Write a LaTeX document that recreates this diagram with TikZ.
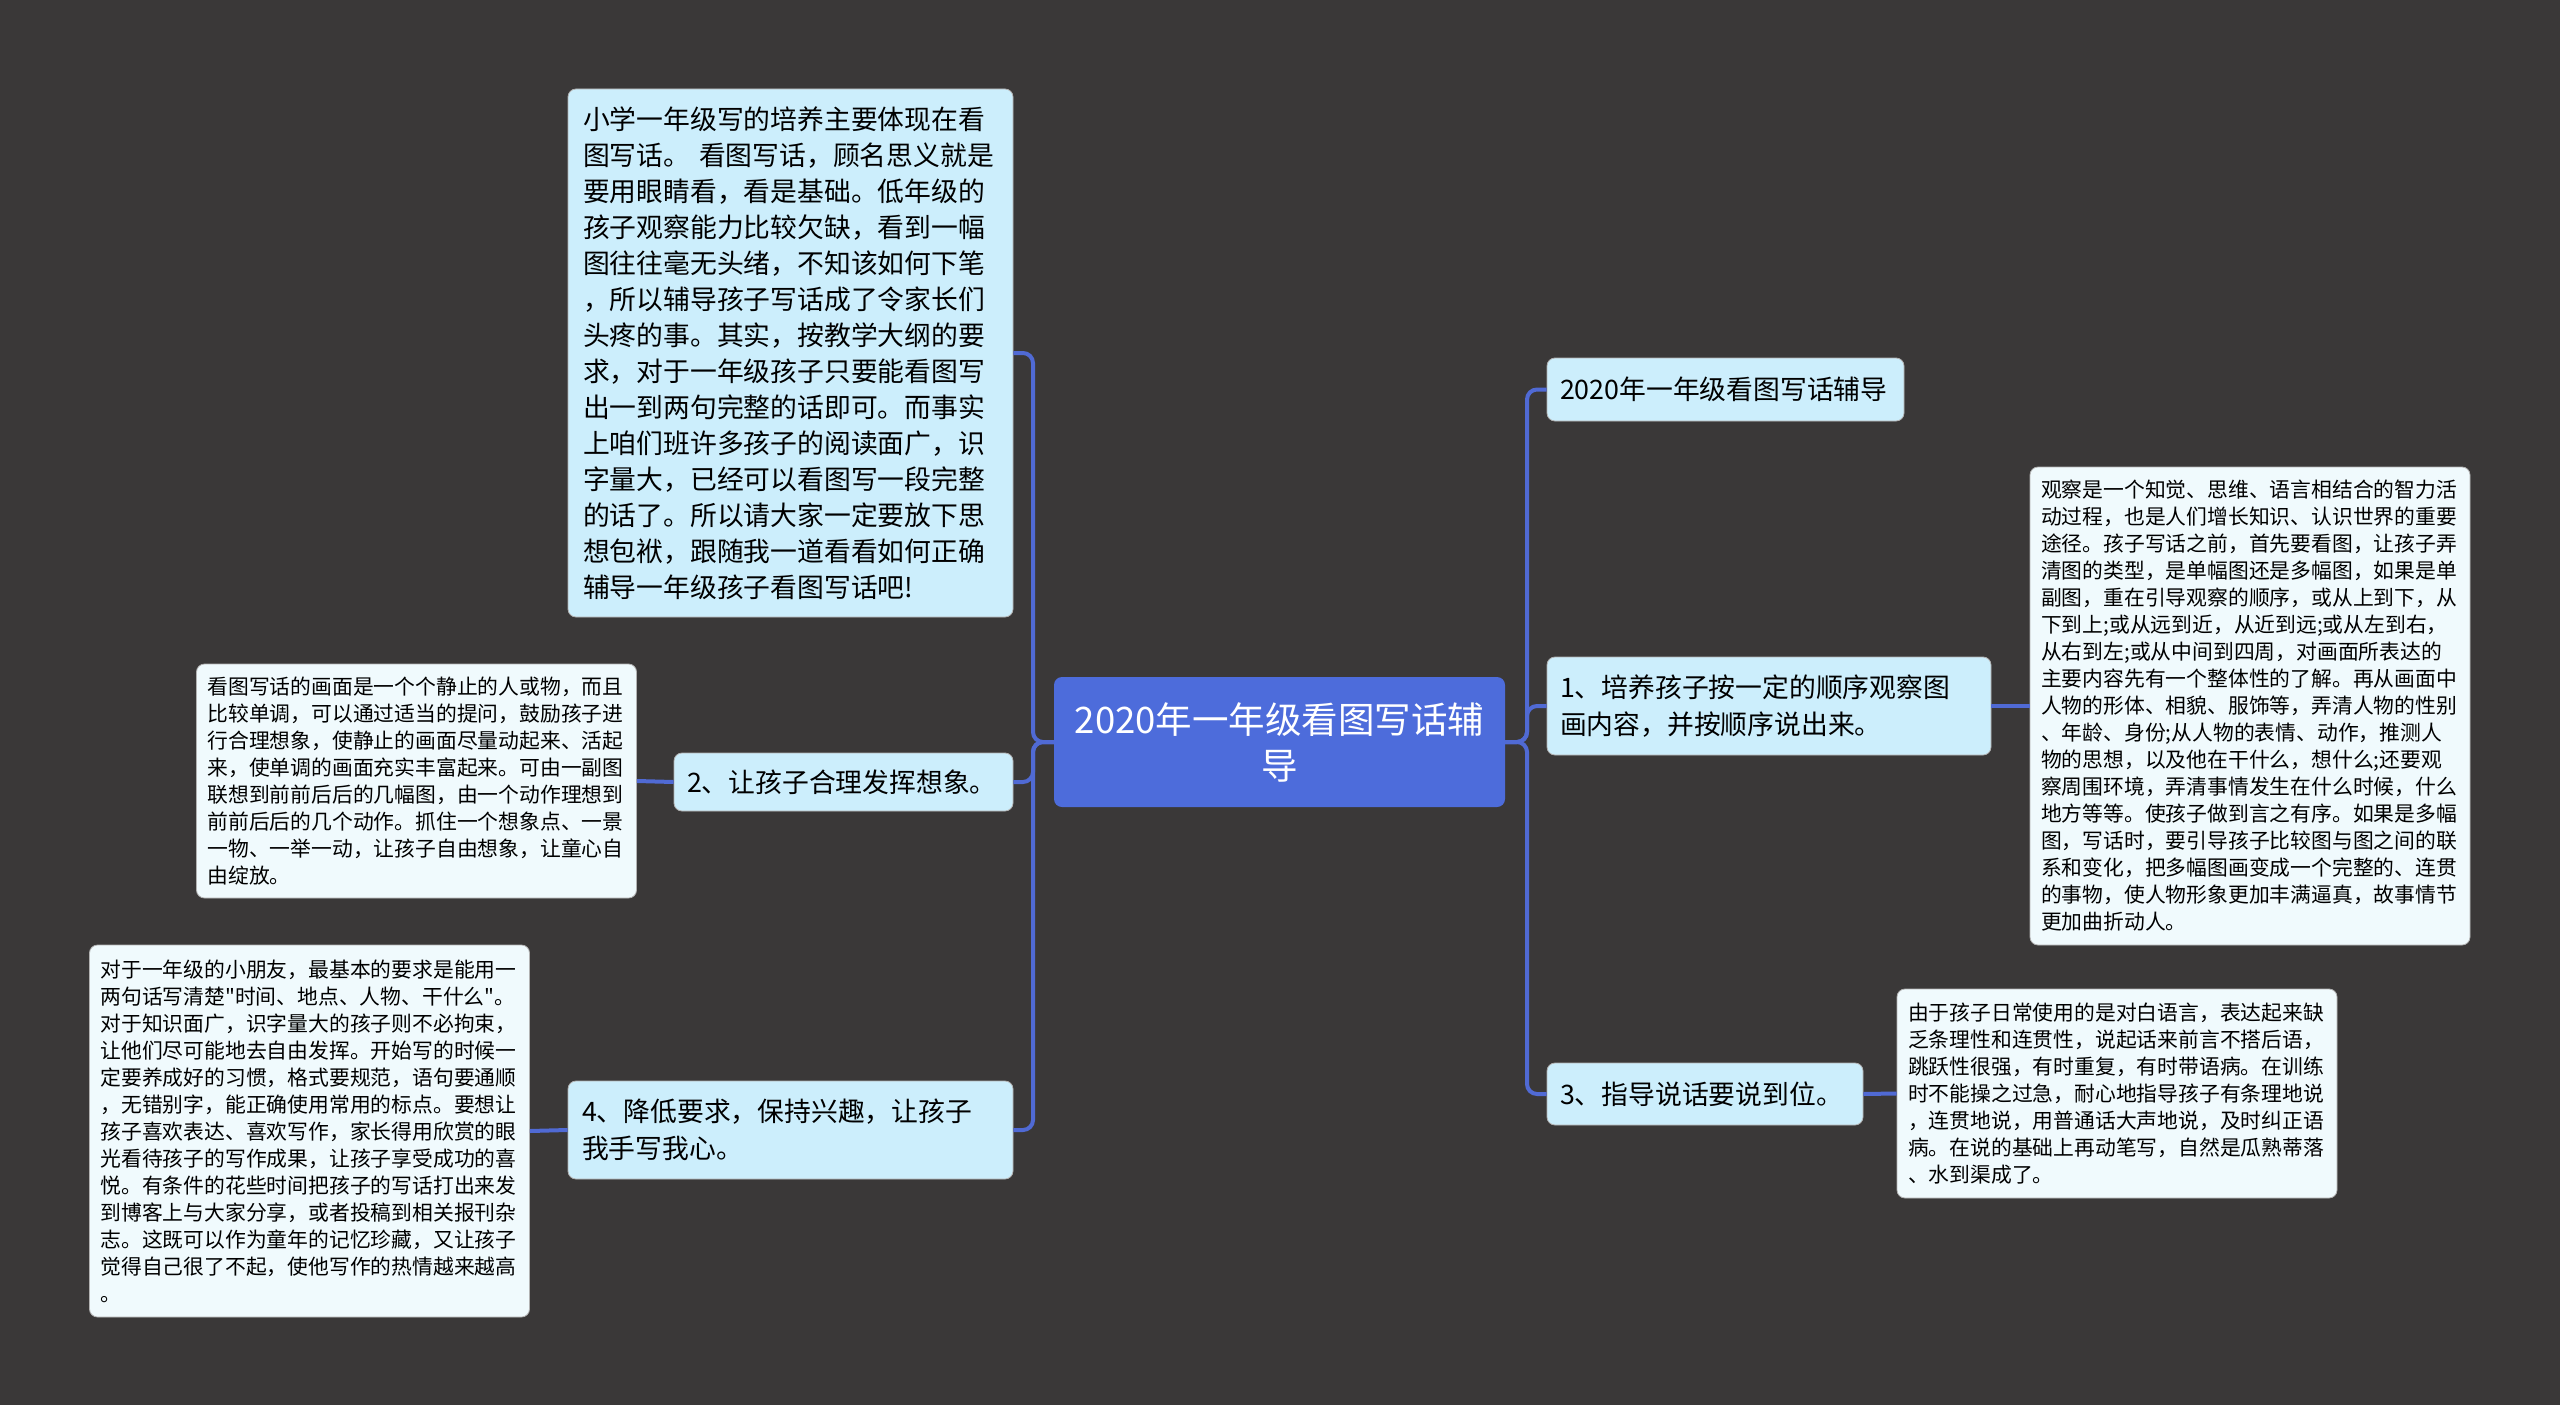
\documentclass[tikz,border=0pt]{standalone}
\usepackage{fontspec}
\setmainfont{Noto Sans CJK SC}[Ligatures=TeXOff]
\definecolor{mapbg}{RGB}{58,56,56}
\definecolor{mapline}{RGB}{80,106,212}
\definecolor{maproot}{RGB}{77,108,219}
\definecolor{mapnode}{RGB}{204,238,252}
\definecolor{mapleaf}{RGB}{240,250,253}
\usetikzlibrary{positioning}

\begin{document}
\begin{tikzpicture}[
  x=1pt,y=-1pt,
  root/.style={fill=maproot,text=white,rounded corners=8pt,align=center,
               font=\fontsize{36.5}{46}\selectfont,
               minimum width=451pt,minimum height=130pt},
  topic/.style={fill=mapnode,draw=black!30,line width=0.8pt,rounded corners=8pt,
                align=left,font=\fontsize{26.8}{36.7}\selectfont,
                inner xsep=13pt,inner ysep=0pt},
  leaf/.style={fill=mapleaf,draw=black!30,line width=0.8pt,rounded corners=8pt,
               align=left,font=\fontsize{20.8}{27}\selectfont,
               inner xsep=11pt,inner ysep=0pt,text width=418pt},
  link/.style={draw=mapline,line width=4pt,rounded corners=10pt},
]
  % Background
  \fill[mapbg] (0,0) rectangle (2560,1405);

  % Root
  \node[root] (root) at (1279.5,742) {2020年一年级看图写话辅\\导};

  % Right branch nodes
  \node[topic,text width=331pt,minimum height=63pt] (title) at (1725.5,389.5)
    {2020年一年级看图写话辅导};
  \node[topic,text width=418pt,minimum height=98pt] (order) at (1769,706)
    {1、培养孩子按一定的顺序观察图\\
     画内容，并按顺序说出来。};
  \node[topic,text width=290pt,minimum height=62pt] (speak) at (1705,1094)
    {3、指导说话要说到位。};

  % Left branch nodes
  \node[topic,text width=415pt,inner xsep=15pt,minimum height=528pt,
        font=\fontsize{26.8}{36}\selectfont] (intro) at (790.5,353)
    {小学一年级写的培养主要体现在看\\
     图写话。 看图写话，顾名思义就是\\
     要用眼睛看，看是基础。低年级的\\
     孩子观察能力比较欠缺，看到一幅\\
     图往往毫无头绪，不知该如何下笔\\
     ，所以辅导孩子写话成了令家长们\\
     头疼的事。其实，按教学大纲的要\\
     求，对于一年级孩子只要能看图写\\
     出一到两句完整的话即可。而事实\\
     上咱们班许多孩子的阅读面广，识\\
     字量大，已经可以看图写一段完整\\
     的话了。所以请大家一定要放下思\\
     想包袱，跟随我一道看看如何正确\\
     辅导一年级孩子看图写话吧!};
  \node[topic,text width=313pt,minimum height=58pt] (imagine) at (843.5,782)
    {2、让孩子合理发挥想象。};
  \node[topic,text width=417pt,inner xsep=14pt,minimum height=98pt] (lower) at (790.5,1130)
    {4、降低要求，保持兴趣，让孩子\\
     我手写我心。};

  % Leaves
  \node[leaf,minimum height=478pt] (observe) at (2250,706)
    {观察是一个知觉、思维、语言相结合的智力活\\
     动过程，也是人们增长知识、认识世界的重要\\
     途径。孩子写话之前，首先要看图，让孩子弄\\
     清图的类型，是单幅图还是多幅图，如果是单\\
     副图，重在引导观察的顺序，或从上到下，从\\
     下到上;或从远到近，从近到远;或从左到右，\\
     从右到左;或从中间到四周，对画面所表达的\\
     主要内容先有一个整体性的了解。再从画面中\\
     人物的形体、相貌、服饰等，弄清人物的性别\\
     、年龄、身份;从人物的表情、动作，推测人\\
     物的思想，以及他在干什么，想什么;还要观\\
     察周围环境，弄清事情发生在什么时候，什么\\
     地方等等。使孩子做到言之有序。如果是多幅\\
     图，写话时，要引导孩子比较图与图之间的联\\
     系和变化，把多幅图画变成一个完整的、连贯\\
     的事物，使人物形象更加丰满逼真，故事情节\\
     更加曲折动人。};
  \node[leaf,minimum height=209pt] (dialog) at (2117,1093.5)
    {由于孩子日常使用的是对白语言，表达起来缺\\
     乏条理性和连贯性，说起话来前言不搭后语，\\
     跳跃性很强，有时重复，有时带语病。在训练\\
     时不能操之过急，耐心地指导孩子有条理地说\\
     ，连贯地说，用普通话大声地说，及时纠正语\\
     病。在说的基础上再动笔写，自然是瓜熟蒂落\\
     、水到渠成了。};
  \node[leaf,minimum height=234pt] (still) at (416.5,781)
    {看图写话的画面是一个个静止的人或物，而且\\
     比较单调，可以通过适当的提问，鼓励孩子进\\
     行合理想象，使静止的画面尽量动起来、活起\\
     来，使单调的画面充实丰富起来。可由一副图\\
     联想到前前后后的几幅图，由一个动作理想到\\
     前前后后的几个动作。抓住一个想象点、一景\\
     一物、一举一动，让孩子自由想象，让童心自\\
     由绽放。};
  \node[leaf,minimum height=372pt] (habit) at (309.5,1131)
    {对于一年级的小朋友，最基本的要求是能用一\\
     两句话写清楚"时间、地点、人物、干什么"。\\
     对于知识面广，识字量大的孩子则不必拘束，\\
     让他们尽可能地去自由发挥。开始写的时候一\\
     定要养成好的习惯，格式要规范，语句要通顺\\
     ，无错别字，能正确使用常用的标点。要想让\\
     孩子喜欢表达、喜欢写作，家长得用欣赏的眼\\
     光看待孩子的写作成果，让孩子享受成功的喜\\
     悦。有条件的花些时间把孩子的写话打出来发\\
     到博客上与大家分享，或者投稿到相关报刊杂\\
     志。这既可以作为童年的记忆珍藏，又让孩子\\
     觉得自己很了不起，使他写作的热情越来越高\\
     。};

  % Trunk joints
  \coordinate (rj) at (1527,742);
  \coordinate (lj) at (1033,742);

  % Links root -> topics
  \draw[link] (root.east) -- (rj) |- (title.west);
  \draw[link] (root.east) -- (rj) |- (order.west);
  \draw[link] (root.east) -- (rj) |- (speak.west);
  \draw[link] (root.west) -- (lj) |- (intro.east);
  \draw[link] (root.west) -- (lj) |- (imagine.east);
  \draw[link] (root.west) -- (lj) |- (lower.east);

  % Links topics -> leaves
  \draw[link] (order.east) -- (observe.west);
  \draw[link] (speak.east) -- (dialog.west);
  \draw[link] (imagine.west) -- (still.east);
  \draw[link] (lower.west) -- (habit.east);
\end{tikzpicture}
\end{document}
